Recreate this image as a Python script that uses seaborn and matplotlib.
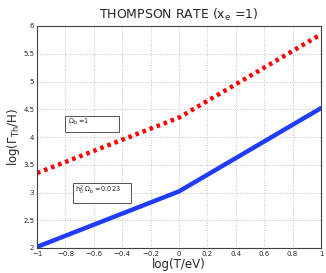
import pandas as pd
import matplotlib.pyplot as plt
import seaborn as sns
import numpy as np
from matplotlib.patches import Rectangle

# log(T/eV) break points
log_T = [-1.0, 0.0, 1.0]
# log(Gamma_Th / H) for Omega_b = 1
rate_omega1 = [3.35, 4.35, 5.85]
# log(Gamma_Th / H) for h^2 Omega_b = 0.023
rate_omega023 = [2.02, 3.02, 4.52]

x_ticks = [-1, -0.8, -0.6, -0.4, -0.2, 0, 0.2, 0.4, 0.6, 0.8, 1]
x_tick_labels = ["\u22121", "\u22120.8", "\u22120.6", "\u22120.4", "\u22120.2", "0",
                 "0.2", "0.4", "0.6", "0.8", "1"]
y_ticks = [2, 2.5, 3, 3.5, 4, 4.5, 5, 5.5, 6]
y_tick_labels = ["2", "2.5", "3", "3.5", "4", "4.5", "5", "5.5", "6"]

df = pd.DataFrame({
    "logT": log_T * 2,
    "rate": rate_omega1 + rate_omega023,
    "case": ["omega1"] * 3 + ["omega023"] * 3,
})

sns.set_style("white")
fig = plt.figure(figsize=(3.26, 2.73), dpi=100)
ax = fig.add_axes([37 / 326, 1 - 248 / 273, 284 / 326, 222 / 273])

sns.lineplot(data=df[df["case"] == "omega1"], x="logT", y="rate", ax=ax,
             color="#ff0000", linewidth=3.2, linestyle=(0, (0.8, 0.9)))
sns.lineplot(data=df[df["case"] == "omega023"], x="logT", y="rate", ax=ax,
             color="#1f3cff", linewidth=3.2)

ax.set_xlim(-1, 1)
ax.set_ylim(2, 6)
ax.set_xticks(x_ticks)
ax.set_xticklabels(x_tick_labels)
ax.set_yticks(y_ticks)
ax.set_yticklabels(y_tick_labels)
ax.tick_params(labelsize=5, length=2, direction="in", pad=2)
ax.grid(True, linestyle=(0, (1, 2)), color="#b0b0b0", linewidth=0.6)
for side in ax.spines.values():
    side.set_color("#404040")
    side.set_linewidth(0.8)

ax.set_title(r"THOMPSON RATE ($\mathregular{x_e}$ =1)", fontsize=9, pad=5)
ax.set_xlabel(r"log(T/eV)", fontsize=8.5, labelpad=1)
ax.set_ylabel(r"log($\mathregular{\Gamma_{Th}}$/H)", fontsize=8.5, labelpad=1)

# annotation boxes (matlab-style)
ax.add_patch(Rectangle((-0.80, 4.09), 0.38, 0.29, fc="white", ec="#505050",
                       lw=0.7, zorder=5))
ax.text(-0.78, 4.27, r"$\mathregular{\Omega_b}$ =1", fontsize=4.8,
        va="center", ha="left", zorder=6)
ax.add_patch(Rectangle((-0.75, 2.81), 0.41, 0.36, fc="white", ec="#505050",
                       lw=0.7, zorder=5))
ax.text(-0.735, 3.04, r"$\mathregular{h_0^2\ \Omega_b}$ =0.023", fontsize=4.8,
        va="center", ha="left", zorder=6)

fig.savefig("out.png", dpi=100)
